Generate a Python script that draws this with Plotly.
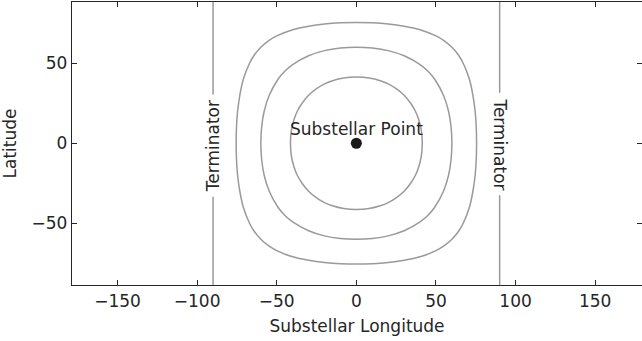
import plotly.graph_objects as go

# ---- data ----
# contour quadrant points (lon, lat) for the three insolation contours
c_outer_lon = [0, 10, 20, 30, 40, 50, 55, 60, 64.2, 67.1, 71.0, 73.2, 74.6, 75.3, 75.5]
c_outer_lat = [75.5, 75.3, 74.6, 73.2, 71.0, 67.1, 64.2, 60, 55, 50, 40, 30, 20, 10, 0]
c_mid_lon = [0, 10, 20, 30, 40, 45, 49.2, 54.7, 57.9, 59.5, 60]
c_mid_lat = [60, 59.5, 57.9, 54.7, 49.2, 45, 40, 30, 20, 10, 0]
c_in_lon = [0, 8, 15, 20, 25, 30, 34.1, 37.1, 39.1, 40.8, 41.4]
c_in_lat = [41.4, 40.8, 39.1, 37.1, 34.1, 30, 25, 20, 15, 8, 0]

terminator_lon = [-90, 90]
terminator_gap_left = [30.5, -33.5]    # lat range hidden behind label
terminator_gap_right = [31.5, -32.5]
terminator_label_lat = [-1.8, -0.5]

substellar_lon = [0]
substellar_lat = [0]
substellar_label = "Substellar Point"

x_ticks = [-150, -100, -50, 0, 50, 100, 150]
y_ticks = [-50, 0, 50]
x_range = [-178.6, 179.4]
y_range = [-88.6, 88.3]

TXT = "#262626"
FONT = "DejaVu Sans"
FS = 17


def loop(qlon, qlat):
    # build full closed loop from first-quadrant points by mirroring
    xs, ys = [], []
    xs += qlon; ys += qlat
    xs += qlon[::-1][1:]; ys += [-v for v in qlat[::-1][1:]]
    xs += [-v for v in qlon][1:]; ys += [-v for v in qlat][1:]
    xs += [-v for v in qlon[::-1]][1:]; ys += qlat[::-1][1:]
    return xs, ys


fig = go.Figure()
for qlon, qlat in [(c_outer_lon, c_outer_lat), (c_mid_lon, c_mid_lat), (c_in_lon, c_in_lat)]:
    xs, ys = loop(qlon, qlat)
    fig.add_trace(go.Scatter(x=xs, y=ys, mode="lines",
                             line=dict(color="#9a9a9a", width=1.5, shape="spline", smoothing=0.6),
                             hoverinfo="skip", showlegend=False))

# terminator lines with gaps for the labels
for lon, gap in zip(terminator_lon, [terminator_gap_left, terminator_gap_right]):
    fig.add_trace(go.Scatter(x=[lon, lon, None, lon, lon],
                             y=[100, gap[0], None, gap[1], -100],
                             mode="lines", line=dict(color="#9a9a9a", width=1.5),
                             hoverinfo="skip", showlegend=False, cliponaxis=True))

fig.add_trace(go.Scatter(x=substellar_lon, y=substellar_lat, mode="markers",
                         marker=dict(color="#1a1a1a", size=11),
                         showlegend=False, hoverinfo="skip"))

for lon, lat, ang in zip(terminator_lon, terminator_label_lat, [-90, 90]):
    fig.add_annotation(x=lon, y=lat, text="Terminator", textangle=ang, showarrow=False,
                       font=dict(family=FONT, size=FS, color=TXT))

fig.add_annotation(x=substellar_lon[0], y=substellar_lat[0], text=substellar_label,
                   showarrow=False, yshift=14, font=dict(family=FONT, size=FS, color=TXT))

axis_common = dict(showgrid=False, zeroline=False, showline=True, linecolor="#262626",
                   linewidth=1.3, mirror="ticks", ticks="inside", ticklen=5, tickwidth=1,
                   tickcolor="#262626", tickfont=dict(family=FONT, size=FS, color=TXT))

fig.update_xaxes(range=x_range, tickvals=x_ticks,
                 title=dict(text="Substellar Longitude", font=dict(family=FONT, size=FS, color=TXT),
                            standoff=10), **axis_common)
fig.update_yaxes(range=y_range, tickvals=y_ticks,
                 title=dict(text="Latitude", font=dict(family=FONT, size=FS, color=TXT),
                            standoff=10), **axis_common)

fig.update_layout(width=642, height=341, margin=dict(l=72, r=0, t=2, b=56),
                  plot_bgcolor="white", paper_bgcolor="white",
                  font=dict(family=FONT, color=TXT))

fig.write_html("out.html")
